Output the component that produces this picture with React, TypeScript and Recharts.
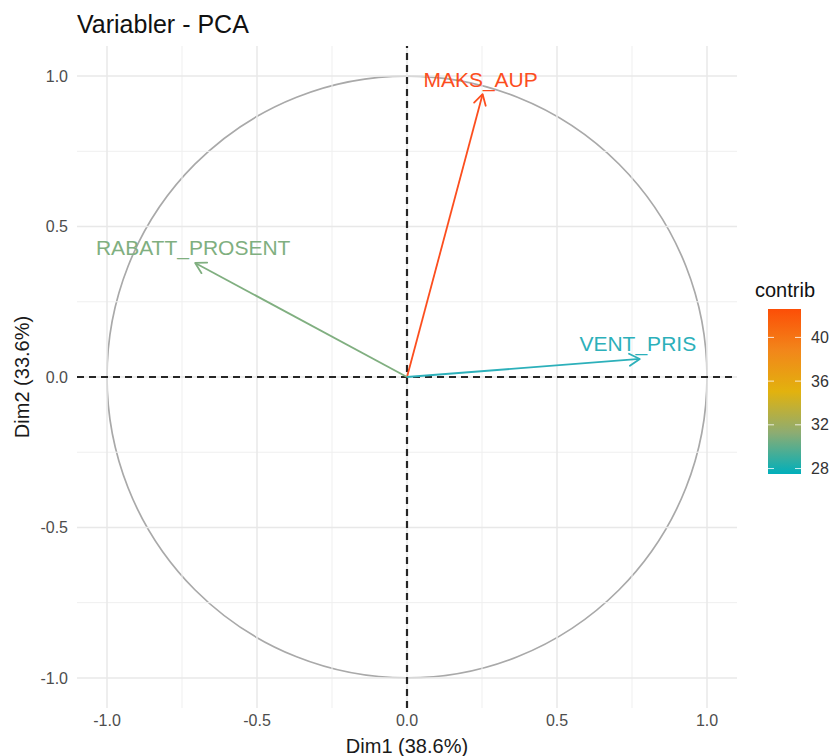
import React from 'react';
import {
  ComposedChart,
  XAxis,
  YAxis,
  Scatter,
  ReferenceLine,
  ReferenceArea,
} from 'recharts';

// ---- data ----
const variables = ['MAKS_AUP', 'RABATT_PROSENT', 'VENT_PRIS'];
const dim1 = [0.252, -0.706, 0.776];
const dim2 = [0.94, 0.379, 0.06];
const contrib = [42.5, 30.0, 27.5];
const varColors = ['#FC4E1E', '#80AF80', '#2CB0BA'];

const axisTicks = [-1, -0.5, 0, 0.5, 1];
const minorGrid = [-0.75, -0.25, 0.25, 0.75];
const contribLimits = [27.5, 42.6];
const legendTicks = [28, 32, 36, 40];

const FONT = '"Liberation Sans", Arial, Helvetica, sans-serif';

const arrowSeries = variables.map((name, i) => ({
  name,
  color: varColors[i],
  contrib: contrib[i],
  data: [
    { x: 0, y: 0, tip: false, name },
    { x: dim1[i], y: dim2[i], tip: true, name },
  ],
}));

const makeTip = (color: string) => (props: any) => {
  const { cx, cy, payload } = props;
  if (!payload || !payload.tip) return <g />;
  const a = Math.atan2(-payload.y, payload.x);
  const L = 12;
  const h = Math.PI / 6;
  const b = a + Math.PI;
  const p1x = cx + L * Math.cos(b - h);
  const p1y = cy + L * Math.sin(b - h);
  const p2x = cx + L * Math.cos(b + h);
  const p2y = cy + L * Math.sin(b + h);
  return (
    <g>
      <polyline
        points={`${p1x},${p1y} ${cx},${cy} ${p2x},${p2y}`}
        fill="none"
        stroke={color}
        strokeWidth={1.8}
        strokeLinecap="round"
        strokeLinejoin="round"
      />
      <text
        x={cx - 2}
        y={cy - 15}
        textAnchor="middle"
        dominantBaseline="central"
        fill={color}
        fontSize={21}
        fontFamily={FONT}
      >
        {payload.name}
      </text>
    </g>
  );
};

const fmt = (v: number) => v.toFixed(1);

// legend geometry
const LG = { x: 768, top: 309, w: 33, h: 165 };
const legendY = (v: number) =>
  LG.top + ((contribLimits[1] - v) / (contribLimits[1] - contribLimits[0])) * LG.h;

export default function App() {
  return (
    <div
      style={{
        position: 'absolute',
        left: 0,
        top: 0,
        width: 832,
        height: 756,
        background: '#ffffff',
      }}
    >
      <ComposedChart
        width={832}
        height={756}
        margin={{ top: 46, right: 95, bottom: 0, left: 0 }}
      >
        <XAxis
          type="number"
          dataKey="x"
          domain={[-1.1, 1.1]}
          ticks={axisTicks}
          tickFormatter={fmt}
          allowDataOverflow
          axisLine={false}
          tickLine={false}
          tickSize={0}
          tickMargin={7}
          height={48}
          tick={{ fill: '#4D4D4D', fontSize: 16, fontFamily: FONT }}
          label={{
            value: 'Dim1 (38.6%)',
            position: 'insideBottom',
            offset: 3,
            fill: '#1A1A1A',
            fontSize: 20,
            fontFamily: FONT,
          }}
        />
        <YAxis
          type="number"
          dataKey="y"
          domain={[-1.1, 1.1]}
          ticks={axisTicks}
          tickFormatter={fmt}
          allowDataOverflow
          axisLine={false}
          tickLine={false}
          tickSize={0}
          tickMargin={9}
          width={77}
          tick={{ fill: '#4D4D4D', fontSize: 16, fontFamily: FONT }}
          label={{
            value: 'Dim2 (33.6%)',
            angle: -90,
            position: 'insideLeft',
            offset: 22,
            fill: '#1A1A1A',
            fontSize: 20,
            fontFamily: FONT,
            style: { textAnchor: 'middle' },
          }}
        />
        {minorGrid.map((v) => (
          <ReferenceLine key={'mx' + v} x={v} stroke="#EFEFEF" strokeWidth={1} />
        ))}
        {minorGrid.map((v) => (
          <ReferenceLine key={'my' + v} y={v} stroke="#EFEFEF" strokeWidth={1} />
        ))}
        {axisTicks.map((v) => (
          <ReferenceLine key={'gx' + v} x={v} stroke="#E8E8E8" strokeWidth={1.5} />
        ))}
        {axisTicks.map((v) => (
          <ReferenceLine key={'gy' + v} y={v} stroke="#E8E8E8" strokeWidth={1.5} />
        ))}
        <ReferenceArea
          x1={-1}
          x2={1}
          y1={-1}
          y2={1}
          shape={(p: any) => (
            <ellipse
              cx={p.x + p.width / 2}
              cy={p.y + p.height / 2}
              rx={Math.abs(p.width) / 2}
              ry={Math.abs(p.height) / 2}
              fill="none"
              stroke="#A9A9A9"
              strokeWidth={1.7}
            />
          )}
        />
        <ReferenceLine x={0} stroke="#262626" strokeWidth={2.2} strokeDasharray="7 5" />
        <ReferenceLine y={0} stroke="#262626" strokeWidth={2.2} strokeDasharray="7 5" />
        {arrowSeries.map((s) => (
          <Scatter
            key={s.name}
            name={s.name}
            data={s.data}
            line={{ stroke: s.color, strokeWidth: 1.8 }}
            lineType="joint"
            shape={makeTip(s.color)}
            isAnimationActive={false}
          />
        ))}
      </ComposedChart>
      <svg
        width={832}
        height={756}
        style={{ position: 'absolute', left: 0, top: 0, pointerEvents: 'none' }}
      >
        <defs>
          <linearGradient id="contribGrad" x1="0" y1="0" x2="0" y2="1">
            <stop offset="0" stopColor="#FC4E07" />
            <stop offset="0.25" stopColor="#F2861A" />
            <stop offset="0.5" stopColor="#E2B20E" />
            <stop offset="0.75" stopColor="#8DAC72" />
            <stop offset="1" stopColor="#00AFBB" />
          </linearGradient>
        </defs>
        <text x={77} y={33} fontSize={25} fontFamily={FONT} fill="#111111">
          Variabler - PCA
        </text>
        <text x={755} y={297} fontSize={20} fontFamily={FONT} fill="#111111">
          contrib
        </text>
        <rect x={LG.x} y={LG.top} width={LG.w} height={LG.h} fill="url(#contribGrad)" />
        {legendTicks.map((t) => (
          <g key={t}>
            <line
              x1={LG.x}
              x2={LG.x + 6}
              y1={legendY(t)}
              y2={legendY(t)}
              stroke="#ffffff"
              strokeOpacity={0.8}
              strokeWidth={1}
            />
            <line
              x1={LG.x + LG.w - 6}
              x2={LG.x + LG.w}
              y1={legendY(t)}
              y2={legendY(t)}
              stroke="#ffffff"
              strokeOpacity={0.8}
              strokeWidth={1}
            />
            <text
              x={811}
              y={legendY(t)}
              dominantBaseline="central"
              fontSize={16}
              fontFamily={FONT}
              fill="#333333"
            >
              {t}
            </text>
          </g>
        ))}
      </svg>
    </div>
  );
}
